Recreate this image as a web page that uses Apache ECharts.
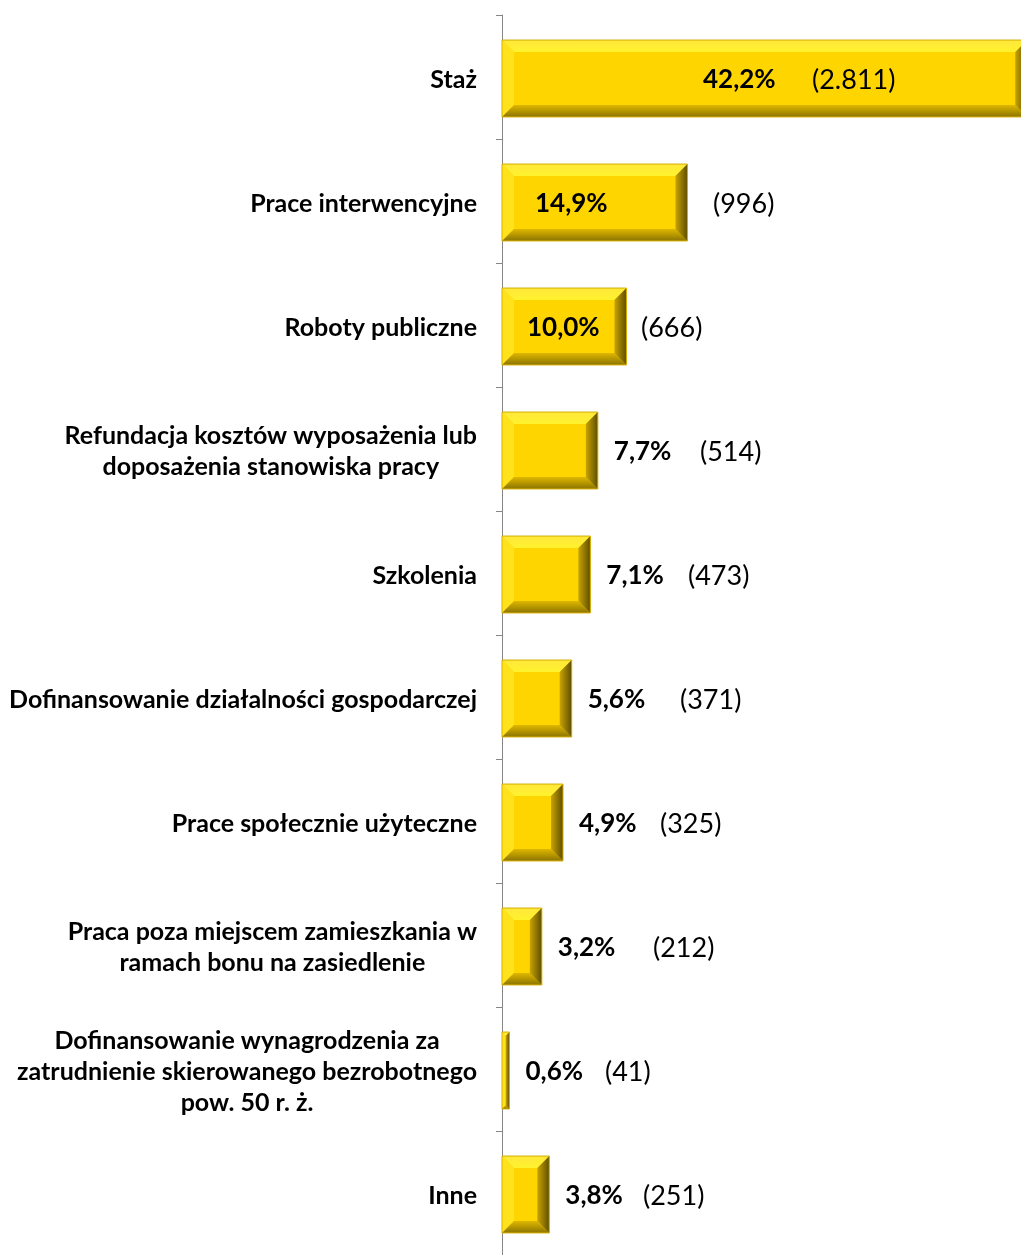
<!DOCTYPE html>
<html><head><meta charset="utf-8">
<script src="https://cdn.jsdelivr.net/npm/echarts@6/dist/echarts.min.js"></script>
<style>html,body{margin:0;padding:0;background:#fff}#c{width:1021px;height:1255px}</style>
</head><body><div id="c"></div>
<script>
const categories = [
  'Staż',
  'Prace interwencyjne',
  'Roboty publiczne',
  'Refundacja kosztów wyposażenia lub\ndoposażenia stanowiska pracy',
  'Szkolenia',
  'Dofinansowanie działalności gospodarczej',
  'Prace społecznie użyteczne',
  'Praca poza miejscem zamieszkania w\nramach bonu na zasiedlenie',
  'Dofinansowanie wynagrodzenia za\nzatrudnienie skierowanego bezrobotnego\npow. 50 r. ż.',
  'Inne'
];
const percentValues = [42.2, 14.9, 10.0, 7.7, 7.1, 5.6, 4.9, 3.2, 0.6, 3.8];
const countValues = [2811, 996, 666, 514, 473, 371, 325, 212, 41, 251];

// label layout (pixel offsets from the axis start; null = just after bar end)
const pctLabelOffset = [201, 33, 25, null, null, null, null, null, null, null];
const cntLabelOffset = [310, 211, 139, 198, 186, 178, 158, 151, 103, 141];

const FONT = 'Lato, "Open Sans", sans-serif';
function fmtPct(v){ return v.toFixed(1).replace('.', ',') + '%'; }
function fmtCnt(v){ return '(' + String(v).replace(/\B(?=(\d{3})+(?!\d))/g, '.') + ')'; }

const chart = echarts.init(document.getElementById('c'));
const seriesData = percentValues.map((v, i) => [v, i]);

function renderItem(params, api){
  const v = api.value(0), idx = api.value(1);
  const s = api.coord([0, idx]);
  const e = api.coord([v, idx]);
  const bh = api.size([0, 1])[1] * 0.62;
  const x0 = s[0], x1 = e[0], yc = s[1] + 1.5;
  const y0 = yc - bh / 2, y1 = yc + bh / 2;
  const b = Math.min(12, (x1 - x0) / 2, bh / 2);
  const children = [
    {type:'rect', shape:{x:x0, y:y0, width:x1-x0, height:bh}, style:{fill:'#FFD500'}},
    {type:'polygon', shape:{points:[[x0,y0],[x1,y0],[x1-b,y0+b],[x0+b,y0+b]]},
      style:{fill:new echarts.graphic.LinearGradient(0,0,0,1,[{offset:0,color:'#FFE83A'},{offset:1,color:'#FFF22E'}])}},
    {type:'polygon', shape:{points:[[x0,y0],[x0+b,y0+b],[x0+b,y1-b],[x0,y1]]},
      style:{fill:'#FFE21C'}},
    {type:'polygon', shape:{points:[[x0,y1],[x1,y1],[x1-b,y1-b],[x0+b,y1-b]]},
      style:{fill:new echarts.graphic.LinearGradient(0,0,0,1,[{offset:0,color:'#E0B800'},{offset:1,color:'#8C7400'}])}},
    {type:'polygon', shape:{points:[[x1,y0],[x1,y1],[x1-b,y1-b],[x1-b,y0+b]]},
      style:{fill:new echarts.graphic.LinearGradient(0,0,1,0,[{offset:0,color:'#C9A300'},{offset:1,color:'#5E4E00'}])}},
    {type:'rect', shape:{x:x0, y:y0, width:x1-x0, height:bh}, style:{fill:'none', stroke:'#D4AE00', lineWidth:1}}
  ];
  const po = pctLabelOffset[idx];
  const px = po == null ? x1 + 16 : x0 + po;
  children.push({type:'text', style:{text:fmtPct(v), x:px, y:yc+1, align:'left', verticalAlign:'middle',
    fontFamily:FONT, fontWeight:'bold', fontSize:26, fill:'#000'}});
  children.push({type:'text', style:{text:fmtCnt(countValues[idx]), x:x0 + cntLabelOffset[idx], y:yc+2, align:'left', verticalAlign:'middle',
    fontFamily:FONT, fontWeight:'normal', fontSize:27, fill:'#000'}});
  return {type:'group', children};
}

chart.setOption({
  animation:false,
  backgroundColor:'#fff',
  grid:{left:502, top:15, right:0, height:1242, containLabel:false},
  xAxis:{type:'value', min:0, max:41.7, show:false},
  yAxis:{
    type:'category', data:categories, inverse:true,
    axisLine:{lineStyle:{color:'#868686', width:1}},
    axisTick:{show:true, length:6, lineStyle:{color:'#868686'}},
    axisLabel:{
      margin:25, align:'right', padding:[5,0,0,0],
      formatter:function(val){ return val.split('\n').map(l => '{c|' + l + '}').join('\n'); },
      rich:{c:{align:'center', fontFamily:FONT, fontWeight:'bold', fontSize:25, lineHeight:31, color:'#000'}}
    }
  },
  series:[{type:'custom', renderItem:renderItem, data:seriesData, encode:{x:0, y:1}, clip:false}]
});
</script></body></html>
